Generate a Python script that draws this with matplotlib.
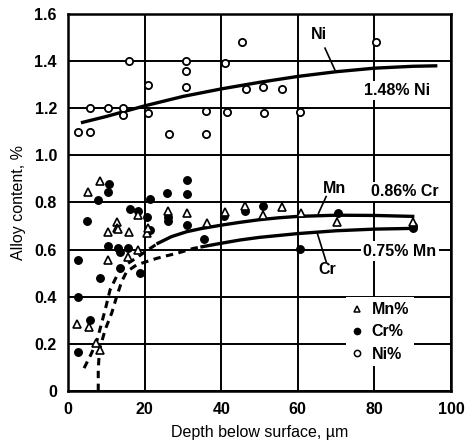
import matplotlib.pyplot as plt
from matplotlib.lines import Line2D

plt.rcParams['font.family'] = ['Liberation Sans', 'DejaVu Sans']

# Ni% (open circles)
ni_x = [2.5, 5.7, 5.7, 10.5, 14.3, 14.3, 15.9, 21.0, 21.0, 26.3, 30.8, 30.8, 30.8,
        36.0, 36.0, 41.0, 41.4, 45.5, 46.4, 50.8, 51.2, 56.0, 60.7, 80.4]
ni_y = [1.10, 1.20, 1.10, 1.20, 1.20, 1.17, 1.40, 1.30, 1.18, 1.09, 1.40, 1.36, 1.29,
        1.19, 1.09, 1.39, 1.185, 1.48, 1.28, 1.29, 1.18, 1.28, 1.185, 1.48]

# Cr% (filled circles)
cr_x = [2.7, 2.7, 2.5, 5.0, 5.7, 7.9, 8.4, 10.8, 10.5, 10.5, 13.1, 13.6, 13.6, 15.7,
        16.2, 18.4, 18.8, 20.7, 21.4, 21.4, 25.8, 26.2, 26.2, 31.0, 31.0, 31.0,
        35.6, 40.8, 46.2, 50.8, 60.6, 70.6, 90.0, 90.0]
cr_y = [0.556, 0.398, 0.167, 0.72, 0.30, 0.81, 0.478, 0.88, 0.846, 0.615, 0.605, 0.59,
        0.52, 0.605, 0.772, 0.765, 0.50, 0.737, 0.814, 0.683, 0.84, 0.74, 0.72, 0.897,
        0.834, 0.705, 0.644, 0.743, 0.765, 0.785, 0.601, 0.754, 0.69, 0.70]

# Mn% (open triangles)
mn_x = [2.3, 5.6, 5.3, 8.4, 7.3, 8.4, 10.4, 10.5, 12.7, 12.7, 13.1, 15.9, 15.7, 18.4,
        18.4, 20.7, 20.8, 26.2, 31.0, 36.2, 41.0, 46.1, 51.0, 56.0, 60.8, 70.3, 90.0]
mn_y = [0.285, 0.273, 0.845, 0.89, 0.202, 0.174, 0.674, 0.557, 0.719, 0.69, 0.686, 0.676,
        0.57, 0.598, 0.747, 0.672, 0.69, 0.765, 0.757, 0.714, 0.761, 0.787, 0.747, 0.78,
        0.754, 0.719, 0.719]

# fitted curves
ni_fit_x = [3.8, 10, 20, 30, 40, 50, 60, 70, 80, 90, 96]
ni_fit_y = [1.14, 1.165, 1.21, 1.25, 1.282, 1.31, 1.335, 1.355, 1.37, 1.378, 1.38]
mn_fit_x = [23.5, 27, 31, 35, 40.5, 45, 50, 55, 60, 70, 80, 90]
mn_fit_y = [0.627, 0.655, 0.676, 0.69, 0.705, 0.716, 0.727, 0.735, 0.741, 0.746, 0.745, 0.741]
cr_fit_x = [35, 40, 45, 50, 60, 70, 80, 90]
cr_fit_y = [0.612, 0.627, 0.641, 0.652, 0.668, 0.68, 0.687, 0.69]
mn_dash_x = [4.2, 6.0, 7.5, 9.7, 11.0, 13.1, 15.0, 17.9, 20.5, 23.5]
mn_dash_y = [0.097, 0.155, 0.21, 0.344, 0.43, 0.50, 0.535, 0.565, 0.595, 0.627]
cr_dash_x = [7.9, 7.9, 8.2, 9.7, 11.4, 12.7, 14.0, 15.3, 17.9, 20.5, 23.2, 25.8, 28.4, 32.7, 35]
cr_dash_y = [0.0, 0.09, 0.174, 0.26, 0.33, 0.40, 0.464, 0.506, 0.535, 0.549, 0.563, 0.574,
             0.584, 0.605, 0.612]

fig = plt.figure(figsize=(4.66, 4.44), dpi=100)
ax = fig.add_axes([0.1459, 0.1194, 0.8219, 0.8491])

ax.plot(ni_fit_x, ni_fit_y, color='black', lw=2.4, zorder=3)
ax.plot(mn_fit_x, mn_fit_y, color='black', lw=2.4, zorder=3)
ax.plot(cr_fit_x, cr_fit_y, color='black', lw=2.4, zorder=3)
ax.plot(mn_dash_x, mn_dash_y, color='black', lw=2.2, ls=(0, (2.4, 1.8)), zorder=3)
ax.plot(cr_dash_x, cr_dash_y, color='black', lw=2.2, ls=(0, (2.4, 1.8)), zorder=3)

ax.plot(ni_x, ni_y, 'o', ms=5.2, mfc='white', mec='black', mew=1.3, zorder=4)
ax.plot(cr_x, cr_y, 'o', ms=5.4, mfc='black', mec='black', zorder=4)
ax.plot(mn_x, mn_y, '^', ms=5.2, mfc='white', mec='black', mew=1.2, zorder=5)

ax.set_xlim(0, 100)
ax.set_ylim(0, 1.6)
ax.set_xticks([0, 20, 40, 60, 80, 100])
ax.set_yticks([0, 0.2, 0.4, 0.6, 0.8, 1.0, 1.2, 1.4, 1.6])
ax.set_yticklabels(['0', '0.2', '0.4', '0.6', '0.8', '1.0', '1.2', '1.4', '1.6'])
ax.tick_params(length=0, labelsize=11.5, pad=8)
for lb in ax.get_xticklabels() + ax.get_yticklabels():
    lb.set_fontweight('bold')
ax.grid(color='black', lw=1.4)
ax.set_axisbelow(True)
for s in ax.spines.values():
    s.set_linewidth(1.8)

ax.set_xlabel('Depth below surface, µm', fontsize=11.5, labelpad=6)
ax.set_ylabel('Alloy content, %', fontsize=11.5, labelpad=6)

# labels on the curves
wb = dict(facecolor='white', edgecolor='none', pad=1.5)
ax.text(65.4, 1.511, 'Ni', fontsize=11.5, fontweight='bold', ha='center', va='center')
ax.plot([67.1, 69.7], [1.455, 1.362], color='black', lw=1.2)
ax.text(85.8, 1.275, '1.48% Ni', fontsize=11.5, fontweight='bold', ha='center', va='center',
        bbox=wb, zorder=2)
ax.text(69.5, 0.86, 'Mn', fontsize=11.5, fontweight='bold', ha='center', va='center')
ax.plot([67.4, 65.4], [0.825, 0.754], color='black', lw=1.2)
ax.text(88.0, 0.846, '0.86% Cr', fontsize=11.5, fontweight='bold', ha='center', va='center',
        bbox=wb, zorder=2)
ax.text(67.7, 0.516, 'Cr', fontsize=11.5, fontweight='bold', ha='center', va='center')
ax.plot([67.4, 65.1], [0.549, 0.669], color='black', lw=1.2)
ax.text(86.7, 0.594, '0.75% Mn', fontsize=11.5, fontweight='bold', ha='center', va='center',
        bbox=wb, zorder=2)

handles = [
    Line2D([], [], ls='none', marker='^', ms=4.5, mfc='white', mec='black', mew=1.1),
    Line2D([], [], ls='none', marker='o', ms=4.5, mfc='black', mec='black'),
    Line2D([], [], ls='none', marker='o', ms=4.5, mfc='white', mec='black', mew=1.1),
]
leg = ax.legend(handles, ['Mn%', 'Cr%', 'Ni%'], loc='lower left',
                bbox_to_anchor=(0.705, 0.044), frameon=True, fancybox=False,
                handlelength=0.8, handletextpad=0.5, labelspacing=0.45,
                borderpad=0.3, prop={'size': 11.5, 'weight': 'bold'})
leg.get_frame().set_edgecolor('none')
leg.get_frame().set_facecolor('white')
leg.get_frame().set_alpha(1)

fig.savefig('out.png', dpi=100)
